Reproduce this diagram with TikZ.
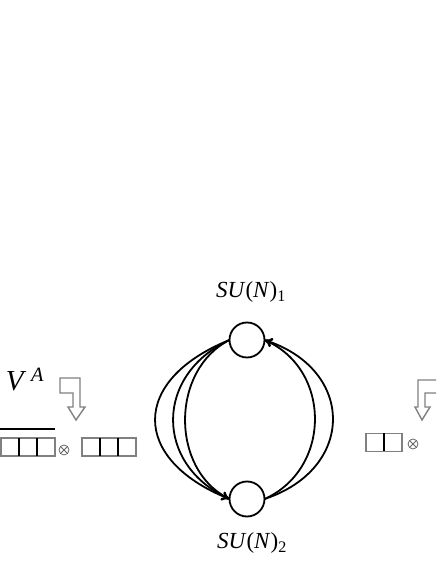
\documentclass[tikz,border=0pt]{standalone}
\usepackage{fontspec}
\setmainfont{Liberation Serif}
\usetikzlibrary{arrows.meta}
\begin{document}
\begin{tikzpicture}[x=10pt, y=10pt, >={To[length=8pt,width=9pt]},
    grp/.style = {circle, draw, line width=1.8pt, minimum size=#1, inner sep=0pt, outer sep=0pt},
    cell/.style = {draw=gray, line width=1.2pt, minimum size=18pt, inner sep=0pt, outer sep=0pt},
    prod/.style = {circle, draw=gray!80!black, line width=0.8pt, minimum size=10pt, inner sep=0pt,
        path picture={\draw[gray!80!black, line width=0.8pt] (path picture bounding box.south west) -- (path picture bounding box.north east)
        (path picture bounding box.north west) -- (path picture bounding box.south east);}},
    hollow/.style = {draw=gray, line width=1.4pt, line join=miter},
    flow/.style = {->, line width=1.8pt}]
    \clip (0,0) rectangle (43.6,56.4);
    % the two gauge groups
    \node at (24.7, 22.4) [grp=35pt] (g1) {};
    \node at (24.7, 6.5) [grp=35pt] (g2) {};
    \node at (25.1, 27.2) (n1) {\fontsize{23}{27}\selectfont\textit{SU}(\textit{N})\textsubscript{1}};
    \node at (25.2, 2.1) (n2) {\fontsize{23}{27}\selectfont\textit{SU}(\textit{N})\textsubscript{2}};
    % bifundamentals
    \foreach \dx/\dy in {9.9/4, 7.5/3.5, 5.9/3}
        \draw[flow] (g1.west) .. controls +(-\dx,-\dy) and +(-\dx,\dy) .. (g2.west);
    \foreach \dx/\dy in {9.1/3, 6.7/3}
        \draw[flow] (g2.east) .. controls +(\dx,\dy) and +(\dx,-\dy) .. (g1.east);
    % left: V^A
    \node at (2.5, 18.4) (va) {\fontsize{29}{33}\selectfont\textit{V}\,\textsuperscript{\textit{A}}};
    \draw[hollow] (6.0,18.6) -- (8.0,18.6) -- (8.0,15.7) -- (8.5,15.7) -- (7.6,14.4) -- (6.8,15.7)
        -- (7.3,15.7) -- (7.3,17.1) -- (6.0,17.1) -- cycle;
    \draw[line width=2.2pt] (0,13.5) -- (5.5,13.5);
    \foreach \i in {0,1,2} {
        \node at (1.0+1.8*\i, 11.7) [cell] (a\i) {};
        \node at (9.1+1.8*\i, 11.7) [cell] (b\i) {};
    }
    \foreach \i in {0,1} {
        \draw[line width=1.2pt] (a\i.north east) -- (a\i.south east);
        \draw[line width=1.2pt] (b\i.north east) -- (b\i.south east);
    }
    \node at (6.4, 11.4) [prod] (t1) {};
    % right, cut by the edge
    \draw[hollow] (45.0,18.4) -- (41.8,18.4) -- (41.8,15.7) -- (41.5,15.7) -- (42.2,14.4) -- (43.0,15.7)
        -- (42.5,15.7) -- (42.5,17.1) -- (45.0,17.1);
    \foreach \i in {0,1}
        \node at (37.5+1.8*\i, 12.15) [cell] (c\i) {};
    \draw[line width=1.2pt] (c0.north east) -- (c0.south east);
    \node at (41.3, 12.0) [prod] (t2) {};
\end{tikzpicture}
\end{document}
